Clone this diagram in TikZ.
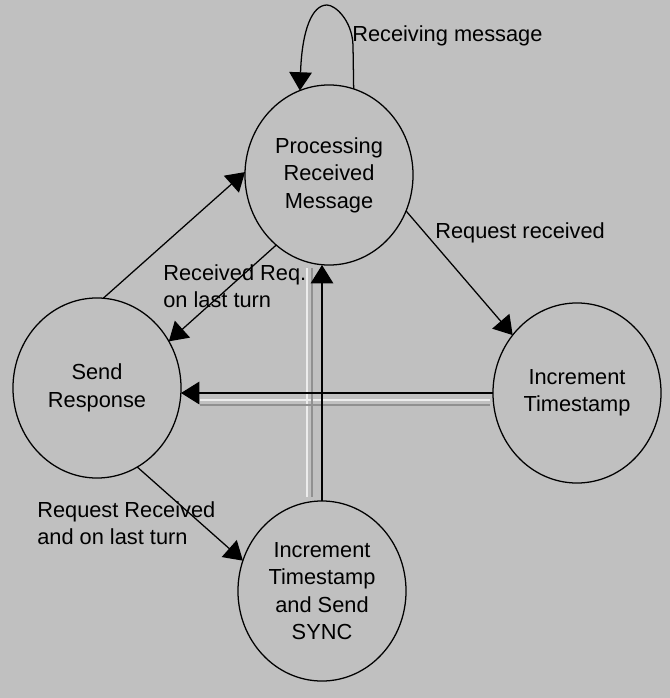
\documentclass[tikz,border=0pt]{standalone}
\usepackage{fontspec}
\setmainfont{Liberation Sans}
\usetikzlibrary{shapes.geometric,arrows.meta}
\definecolor{fond}{RGB}{192,192,192}
\tikzset {etat/.style={draw,ellipse,line width=0.9pt,minimum width=4.2cm,
            minimum height=4.5cm,inner sep=0pt,outer sep=0pt,align=center,
            font=\fontsize{15.5}{19.5}\selectfont}}
\tikzset {lbl/.style={anchor=west,align=left,inner sep=0pt,
            font=\fontsize{15.5}{19.5}\selectfont}}
\tikzset {fleche/.style={draw,line width=0.9pt,-{Triangle[length=13pt,width=16pt]}}}
\tikzset {fantome/.style={line width=0.8pt}}

\begin{document}
\begin{tikzpicture}[x=0.025cm,y=-0.025cm]
  \fill [fond] (0,0) rectangle (670,698);
  \useasboundingbox (0,0) rectangle (670,698);
  \node [etat] (proc) at (329,175) {Processing\\Received\\Message};
  \node [etat] (inc) at (577,393) {Increment\\Timestamp};
  \node [etat] (rep) at (97,388) {Send\\Response};
  \node [etat] (sync) at (322,591) {Increment\\Timestamp\\and Send\\SYNC};
  % traces pales le long des deux connecteurs droits
  \draw [fantome,white!70!fond] (307,268) -- (307,497) (200,400) -- (490,400);
  \draw [fantome,black!25!fond] (312,268) -- (312,497) (200,405) -- (490,405);
  \draw [fleche] (proc.74) -- (353,45) .. controls (352,20) and (335,5) .. (327,5)
    .. controls (312,5) and (302,30) .. (proc.109);
  \draw [fleche] (rep.86) -- (proc.178);
  \draw [fleche] (proc.233) -- (rep.33);
  \draw [fleche] (proc.-25) -- (inc.138);
  \draw [fleche] (inc.west) -- (inc.west -| rep.east);
  \draw [fleche] (sync.north) -- (sync.north |- proc.south);
  \draw [fleche] (rep.-63) -- (sync.159);
  \node [lbl] (lboucle) at (352,36) {Receiving message};
  \node [lbl] (lreq) at (435,233) {Request received};
  \node [lbl] (ldernier) at (163,286) {Received Req.\\on last turn};
  \node [lbl] (lsync) at (37,523) {Request Received\\and on last turn};
\end{tikzpicture}
\end{document}
